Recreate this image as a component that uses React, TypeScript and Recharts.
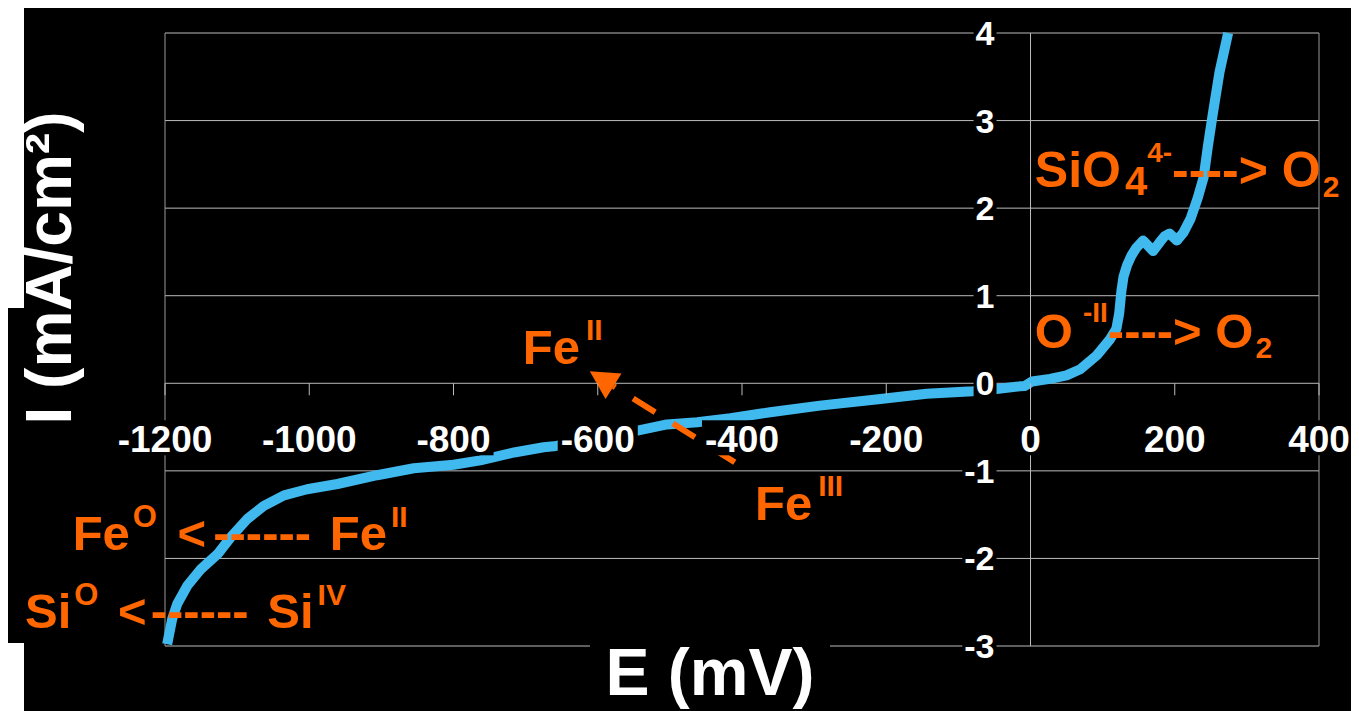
import React from "react";
import { LineChart, Line, XAxis, YAxis, ReferenceLine, ReferenceDot } from "recharts";

// polarisation curve, potential in mV vs current density in mA/cm²
const potentialMv = [
  -1197, -1190, -1183, -1169, -1150, -1127, -1109, -1086, -1063, -1035, -1003, -961, -906, -855,
  -800, -763, -716, -675, -661, -545, -504, -462, -416, -361, -292, -208, -144, -80, -47, -15,
  -8, 2, 27, 50, 69, 92, 110, 119, 123, 126, 129, 134, 140, 147, 156, 170, 180, 186, 193, 203,
  212, 222, 232, 240, 246, 253, 262, 274,
];
const currentDensity = [
  -2.98, -2.69, -2.52, -2.31, -2.12, -1.95, -1.76, -1.55, -1.4, -1.28, -1.21, -1.15, -1.05, -0.97,
  -0.93, -0.88, -0.79, -0.73, -0.72, -0.54, -0.47, -0.445, -0.4, -0.33, -0.255, -0.18, -0.12, -0.09,
  -0.065, -0.035, -0.03, 0.02, 0.05, 0.09, 0.16, 0.32, 0.5, 0.62, 0.8, 1.05, 1.22, 1.35, 1.46, 1.55,
  1.63, 1.51, 1.62, 1.68, 1.71, 1.63, 1.72, 1.88, 2.12, 2.35, 2.71, 3.09, 3.55, 4.0,
];

const xTicks = [-1200, -1000, -800, -600, -400, -200, 0, 200, 400];
const yTicks = [-3, -2, -1, 0, 1, 2, 3, 4];
const frameX = [-1200, 0, 400];

const data = potentialMv.map((e, i) => ({ e, i: currentDensity[i] }));

const FONT = "'Liberation Sans', Arial, sans-serif";
const ORANGE = "#FF6600";
const GRID = "#BBBBBB";
const CURVE = "#40B9EE";

// rough Arial Bold advance widths, only used to size the label backgrounds
const textWidth = (s: string, size: number) =>
  s.split("").reduce((w, c) => w + (c === "-" ? 0.333 : 0.556), 0) * size;

const xTickShape = (v: number) => (p: any) => {
  const label = String(v);
  const w = textWidth(label, 37);
  return (
    <g>
      <line x1={p.cx} y1={p.cy} x2={p.cx} y2={p.cy + 12} stroke={GRID} strokeWidth={1} />
      <rect x={p.cx - w / 2 - 3} y={p.cy + 37} width={w + 6} height={35} fill="#000" />
      <text x={p.cx} y={p.cy + 69} textAnchor="middle" fill="#fff" fontSize={37} fontWeight="bold" fontFamily={FONT}>
        {label}
      </text>
    </g>
  );
};

const yTickShape = (v: number) => (p: any) => {
  const label = String(v);
  const w = textWidth(label, 34);
  const right = p.cx - 36;
  return (
    <g>
      <rect x={right - w - 2} y={p.cy - 16} width={w + 4} height={32} fill="#000" />
      <text x={right} y={p.cy + 12} textAnchor="end" fill="#fff" fontSize={34} fontWeight="bold" fontFamily={FONT}>
        {label}
      </text>
    </g>
  );
};

type Part = { t: string; size?: number; dx?: number; dy?: number };

// annotation text, anchored at the left end of its baseline
const richText = (parts: Part[], size: number) => (p: any) => (
  <text x={p.cx} y={p.cy} fill={ORANGE} fontSize={size} fontWeight="bold" fontFamily={FONT} style={{ whiteSpace: "pre" }}>
    {parts.map((part, k) => (
      <tspan key={k} fontSize={part.size ?? size} dx={part.dx ?? 0} dy={part.dy ?? 0}>
        {part.t}
      </tspan>
    ))}
  </text>
);

const annotations: { e: number; i: number; size: number; parts: Part[] }[] = [
  {
    e: -1328, i: -1.907, size: 49,
    parts: [
      { t: "Fe" },
      { t: "O", size: 31, dx: 3, dy: -23 },
      { t: " <", dx: 7, dy: 23 },
      { t: "------", dx: 7 },
      { t: " Fe", dx: 5 },
      { t: "II", size: 30, dx: 4, dy: -23 },
    ],
  },
  {
    e: -1394, i: -2.8, size: 49,
    parts: [
      { t: "Si" },
      { t: "O", size: 31, dx: 3, dy: -23 },
      { t: " <", dx: 6, dy: 23 },
      { t: "------", dx: 4 },
      { t: " Si", dx: 5 },
      { t: "IV", size: 30, dx: 4, dy: -23 },
    ],
  },
  { e: -704, i: 0.217, size: 49, parts: [{ t: "Fe" }, { t: "II", size: 30, dx: 6, dy: -24 }] },
  { e: -382, i: -1.564, size: 49, parts: [{ t: "Fe" }, { t: "III", size: 30, dx: 6, dy: -24 }] },
  {
    e: 6, i: 2.238, size: 50,
    parts: [
      { t: "SiO" },
      { t: "4", size: 40, dx: 4, dy: 8 },
      { t: "4-", size: 28, dy: -33 },
      { t: "----> O", dy: 25 },
      { t: "2", size: 30, dx: 2, dy: 10 },
    ],
  },
  {
    e: 6, i: 0.4, size: 49,
    parts: [
      { t: "O" },
      { t: "-II", size: 28, dx: 10, dy: -26 },
      { t: "----> O", dy: 26 },
      { t: "2", size: 30, dx: 2, dy: 10 },
    ],
  },
];

// Fe(III) -> Fe(II) arrow, tail then tip
const arrowTail = { x: -410, y: -0.902 };
const arrowTip = { x: -611, y: 0.137 };

const arrowShape = (p: any) => {
  const { x1, y1, x2, y2 } = p;
  const len = Math.hypot(x2 - x1, y2 - y1) || 1;
  const dx = (x2 - x1) / len;
  const dy = (y2 - y1) / len;
  const bx = x2 - dx * 28;
  const by = y2 - dy * 28;
  const pts = `${x2},${y2} ${bx - dy * 15},${by + dx * 15} ${bx + dy * 15},${by - dx * 15}`;
  return (
    <g>
      <line x1={x1} y1={y1} x2={bx} y2={by} stroke={ORANGE} strokeWidth={6} strokeDasharray="26 21" />
      <polygon points={pts} fill={ORANGE} />
    </g>
  );
};

const W = 1351;
const H = 703;

export default function App() {
  return (
    <div style={{ position: "relative", width: W, height: H, background: "#000" }}>
      <LineChart width={W} height={H} data={data} margin={{ top: 25, right: 40, bottom: 65, left: 157 }}>
        <XAxis dataKey="e" type="number" domain={[-1200, 400]} hide />
        <YAxis type="number" domain={[-3, 4]} hide />
        {yTicks.map((v) => (
          <ReferenceLine key={`gy${v}`} y={v} stroke={GRID} strokeWidth={1} />
        ))}
        {frameX.map((v) => (
          <ReferenceLine key={`gx${v}`} x={v} stroke={v === 0 ? GRID : "#999"} strokeWidth={1} />
        ))}
        <Line
          dataKey="i"
          type="linear"
          stroke={CURVE}
          strokeWidth={10}
          strokeLinejoin="round"
          dot={false}
          activeDot={false}
          isAnimationActive={false}
        />
        {xTicks.map((v) => (
          <ReferenceDot key={`tx${v}`} x={v} y={0} r={0} shape={xTickShape(v)} />
        ))}
        {yTicks.map((v) => (
          <ReferenceDot key={`ty${v}`} x={0} y={v} r={0} shape={yTickShape(v)} />
        ))}
        <ReferenceLine segment={[arrowTail, arrowTip]} shape={arrowShape} />
        {annotations.map((a, k) => (
          <ReferenceDot key={`an${k}`} x={a.e} y={a.i} r={0} ifOverflow="visible" shape={richText(a.parts, a.size)} />
        ))}
      </LineChart>
      <svg width={W} height={H} style={{ position: "absolute", left: 0, top: 0, pointerEvents: "none" }}>
        <rect x={0} y={0} width={16} height={300} fill="#fff" />
        <rect x={0} y={635} width={16} height={68} fill="#fff" />
        <rect x={582} y={630} width={240} height={73} fill="#000" />
        <text x={702} y={687} textAnchor="middle" fill="#fff" fontSize={66} fontWeight="bold" fontFamily={FONT}>
          E (mV)
        </text>
        <text
          transform="translate(63,260) rotate(-90)"
          textAnchor="middle"
          fill="#fff"
          fontSize={64}
          fontWeight="bold"
          fontFamily={FONT}
        >
          I (mA/cm²)
        </text>
      </svg>
    </div>
  );
}
